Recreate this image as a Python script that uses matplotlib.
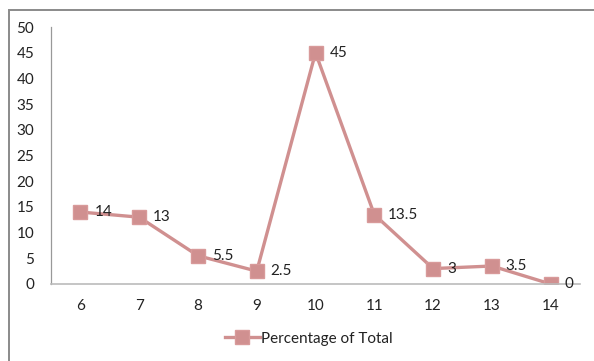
import matplotlib.pyplot as plt
from matplotlib.patches import Rectangle

ages = [6, 7, 8, 9, 10, 11, 12, 13, 14]
percent = [14, 13, 5.5, 2.5, 45, 13.5, 3, 3.5, 0]
labels = ["14", "13", "5.5", "2.5", "45", "13.5", "3", "3.5", "0"]

plt.rcParams['font.family'] = ['Lato', 'DejaVu Sans']
line_color = '#d09090'

fig = plt.figure(figsize=(5.94, 3.61), dpi=100)
ax = fig.add_axes([0.0859, 0.2133, 0.8906, 0.7119])

x = list(range(len(ages)))
ax.plot(x, percent, color=line_color, linewidth=2.4, marker='s',
        markersize=10.5, markeredgecolor='#d89a9a', markerfacecolor=line_color,
        label="Percentage of Total")

for xi, yi, lab in zip(x, percent, labels):
    ax.annotate(lab, (xi, yi), xytext=(10, 0), textcoords='offset points',
                va='center', ha='left', fontsize=11, color='#222222')

ax.set_xlim(-0.5, len(ages) - 0.5)
ax.set_ylim(0, 50)
ax.set_xticks(x)
ax.set_xticklabels([str(a) for a in ages])
ax.set_yticks(range(0, 51, 5))
ax.tick_params(length=0, labelsize=11, colors='#222222')
ax.tick_params(axis='x', pad=11)
ax.tick_params(axis='y', pad=12)

for side in ['top', 'right']:
    ax.spines[side].set_visible(False)
ax.spines['left'].set_color('#999999')
ax.spines['bottom'].set_color('#bbbbbb')
ax.spines['left'].set_linewidth(0.9)
ax.spines['bottom'].set_linewidth(1.2)

fig.legend(loc='center', bbox_to_anchor=(0.52, 0.062), frameon=False,
           fontsize=11, handlelength=2.3, handletextpad=0.1,
           labelcolor='#222222')

# frame around the chart
fig.patches.append(Rectangle((9 / 594, -0.1), 1.0, 1 - 10 / 361 + 0.1,
                             transform=fig.transFigure, fill=False,
                             edgecolor='#8a8a8a', linewidth=1.4))

fig.savefig('out.png', dpi=100)
